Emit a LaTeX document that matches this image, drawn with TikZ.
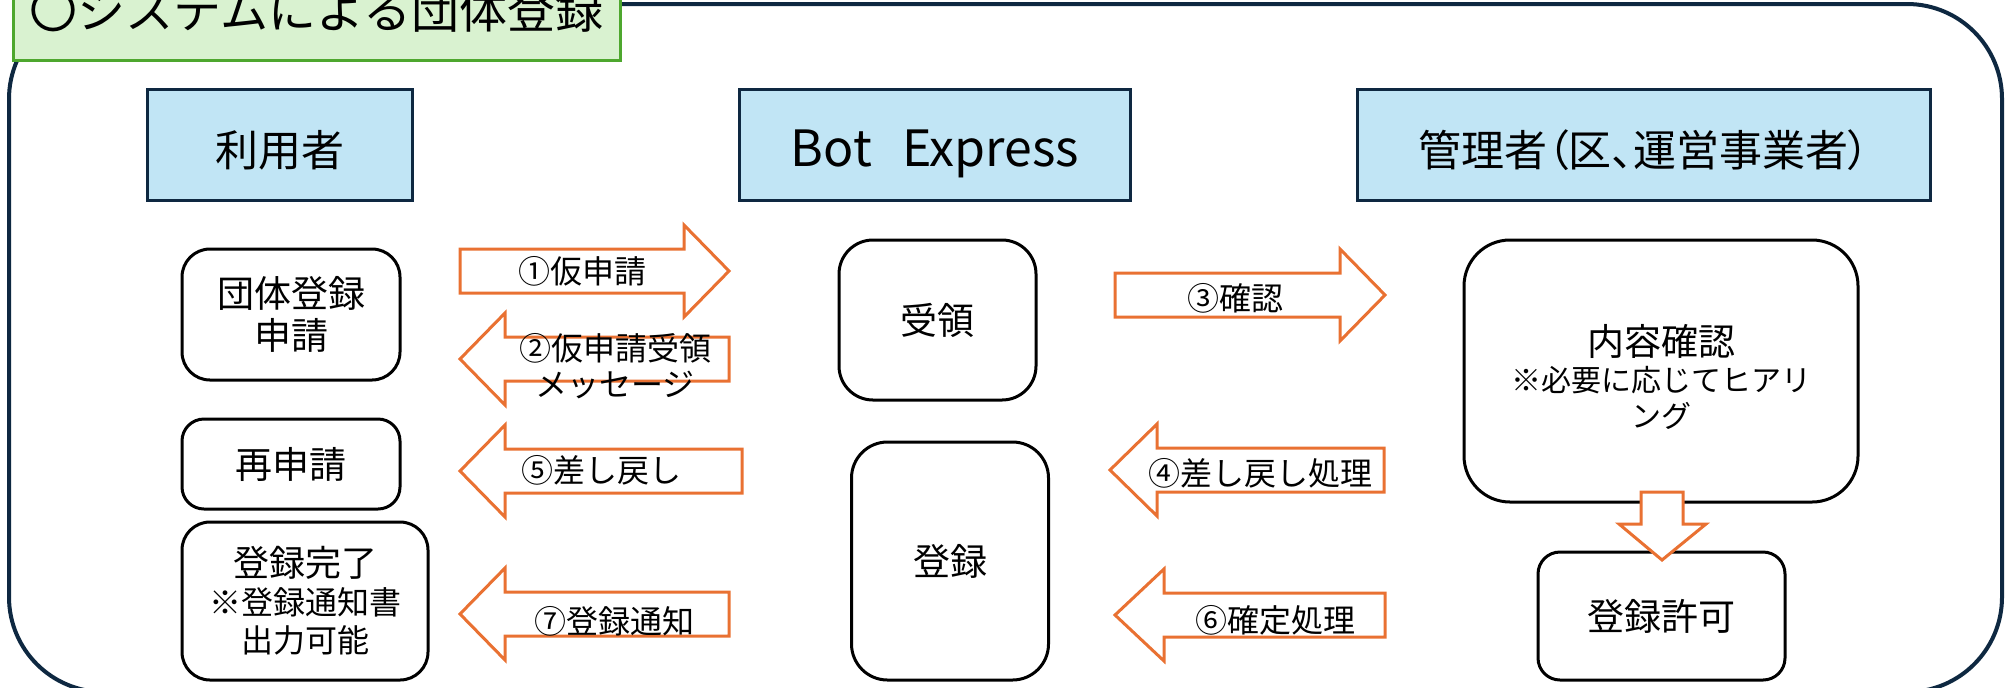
\documentclass[tikz,border=0pt]{standalone}
\usepackage{fontspec}
\setmainfont{Noto Sans CJK JP}
\definecolor{navy}{HTML}{0E2841}
\definecolor{headblue}{HTML}{C1E5F5}
\definecolor{titlefill}{HTML}{D9F2D0}
\definecolor{titleline}{HTML}{4EA72E}
\definecolor{floworange}{HTML}{E97132}
\tikzset{
	frame/.style={draw=navy,line width=2pt,rounded corners=47.5pt},
	titlebox/.style={draw=titleline,fill=titlefill,line width=1.5pt,inner sep=0pt,font=\fontsize{24}{28}\selectfont},
	head/.style={draw=navy,line width=1.5pt,fill=headblue,inner sep=0pt,text height=23pt,text depth=2pt,font=\fontsize{21.5}{26}\selectfont},
	card/.style={draw=black,line width=1.5pt,fill=white,align=center,inner sep=0pt,font=\fontsize{18.5}{21}\selectfont},
	flow/.style={draw=floworange,line width=1.5pt,fill=white,line join=miter},
	flowtext/.style={inner sep=0pt,align=center,font=\fontsize{16}{18}\selectfont}
}

\begin{document}
\begin{tikzpicture}[x=0.5pt,y=-0.5pt]
	\useasboundingbox (0,0) rectangle (2005,687);
	\clip (0,0) rectangle (2005,687);
	% outer frame and title
	\draw[frame] (9,4) rectangle (2002,692);
	\node[titlebox,minimum width=303.5pt,minimum height=50pt] (title) at (316.5,10) {〇システムによる団体登録};

	% column heads
	\node[head,minimum width=132.5pt,minimum height=55.5pt] (user) at (279.5,145) {利用者};
	\node[head,minimum width=195.5pt,minimum height=55.5pt,font=\fontsize{25}{30}\selectfont] (bot) at (935,145) {Bot\hspace{0.6em}Express};
	\node[head,minimum width=286.5pt,minimum height=55.5pt] (admin) at (1644,145) {{\addfontfeatures{RawFeature=+palt}管理者（区、運営事業者）}};

	% user side
	\node[card,rounded corners=14pt,minimum width=109pt,minimum height=65.5pt] (apply) at (291,314.5) {団体登録\\申請};
	\node[card,rounded corners=11pt,minimum width=109pt,minimum height=45pt] (reapply) at (291,464) {再申請};
	\node[card,rounded corners=14pt,minimum width=123pt,minimum height=79pt,font=\fontsize{16}{19}\selectfont] (done) at (305,601) {{\fontsize{18}{20}\selectfont 登録完了}\\※登録通知書\\出力可能};

	% Bot Express
	\node[card,rounded corners=17pt,minimum width=98.5pt,minimum height=80pt] (receive) at (937.5,320) {受領};
	\node[card,rounded corners=18pt,minimum width=98.5pt,minimum height=119pt] (register) at (950,561) {登録};

	% admin side
	\node[card,rounded corners=23pt,minimum width=197pt,minimum height=131pt] (check) at (1661,371) {};
	\node[inner sep=0pt,align=center,font=\fontsize{15}{18}\selectfont] (checktext) at (1661,377) {{\fontsize{18.5}{22}\selectfont 内容確認}\\※必要に応じてヒアリ\\ング};
	\node[card,rounded corners=11pt,minimum width=123.5pt,minimum height=64pt] (permit) at (1661.5,616) {登録許可};

	% block arrows
	\draw[flow] (460,249) -- (684,249) -- (684,225) -- (729,271) -- (684,317) -- (684,293) -- (460,293) -- cycle;
	\draw[flow] (729,337) -- (505,337) -- (505,313) -- (460,359) -- (505,405) -- (505,381) -- (729,381) -- cycle;
	\draw[flow] (742,449) -- (505,449) -- (505,425) -- (460,471) -- (505,517) -- (505,493) -- (742,493) -- cycle;
	\draw[flow] (729,592) -- (505,592) -- (505,568) -- (460,614) -- (505,660) -- (505,636) -- (729,636) -- cycle;
	\draw[flow] (1115,273) -- (1340,273) -- (1340,249) -- (1385,295) -- (1340,341) -- (1340,317) -- (1115,317) -- cycle;
	\draw[flow] (1384,448) -- (1157,448) -- (1157,424) -- (1110,470) -- (1157,516) -- (1157,492) -- (1384,492) -- cycle;
	\draw[flow] (1385,593) -- (1164,593) -- (1164,569) -- (1115,615) -- (1164,661) -- (1164,637) -- (1385,637) -- cycle;
	\draw[flow] (1641,492) -- (1683,492) -- (1683,524) -- (1706,524) -- (1662,560) -- (1619,524) -- (1641,524) -- cycle;

	% arrow labels
	\node[flowtext] (step1) at (582,271) {①仮申請};
	\node[flowtext] (step2) at (615,366) {②仮申請受領\\メッセージ};
	\node[flowtext] (step5) at (601,470) {⑤差し戻し};
	\node[flowtext] (step7) at (614,621) {⑦登録通知};
	\node[flowtext] (step3) at (1235,298) {③確認};
	\node[flowtext] (step4) at (1260,473) {④差し戻し処理};
	\node[flowtext] (step6) at (1275,620) {⑥確定処理};
\end{tikzpicture}
\end{document}
